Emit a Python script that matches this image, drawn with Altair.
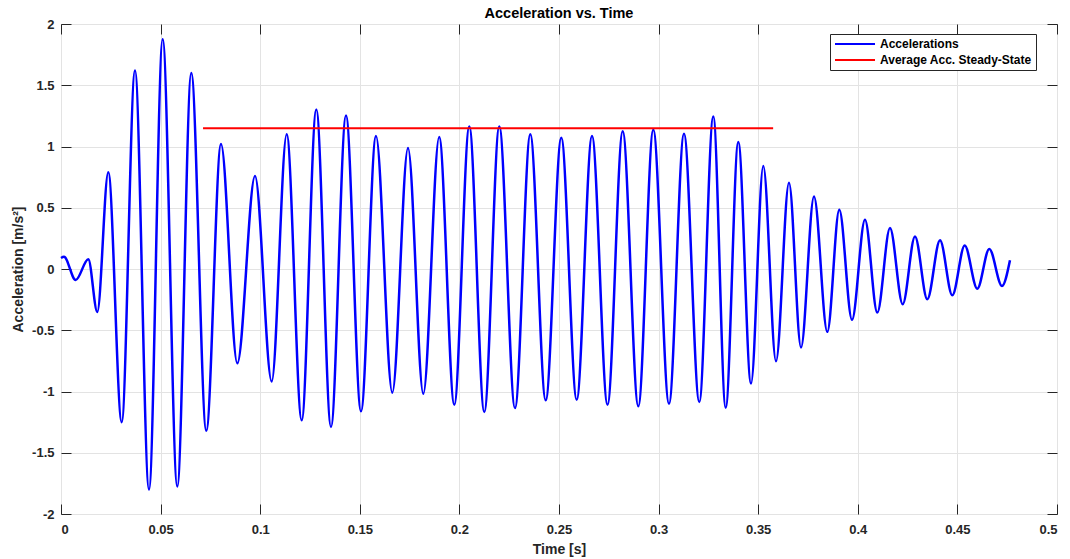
import altair as alt
import pandas as pd

# ---- data (extrema of the signal) ----
time_s = [0.0, 0.0015, 0.00738, 0.01370, 0.01822, 0.02374, 0.03047, 0.03715, 0.04418, 0.05105,
          0.05838, 0.06541, 0.07294, 0.08032, 0.08851, 0.09739, 0.10577, 0.11330, 0.12083, 0.12816,
          0.13554, 0.14307, 0.15060, 0.15813, 0.16632, 0.17420, 0.18188, 0.18986, 0.19744, 0.20497,
          0.21250, 0.22003, 0.22791, 0.23559, 0.24332, 0.25115, 0.25888, 0.26657, 0.27435, 0.28198,
          0.28981, 0.29734, 0.30522, 0.31275, 0.32043, 0.32746, 0.33369, 0.34001, 0.34639, 0.35256,
          0.35893, 0.36546, 0.37149, 0.37801, 0.38469, 0.39071, 0.39709, 0.40361, 0.40979, 0.41616,
          0.42254, 0.42871, 0.43489, 0.44127, 0.44744, 0.45367, 0.45999, 0.46601, 0.47239, 0.47640]
accel = [0.09, 0.10, -0.09, 0.08, -0.35, 0.79, -1.25, 1.62, -1.80, 1.876,
         -1.775, 1.60, -1.32, 1.02, -0.77, 0.759, -0.918, 1.099, -1.235, 1.302,
         -1.289, 1.253, -1.162, 1.086, -1.01, 0.988, -1.018, 1.078, -1.108, 1.164,
         -1.167, 1.164, -1.135, 1.099, -1.072, 1.072, -1.067, 1.086, -1.108, 1.124,
         -1.121, 1.137, -1.10, 1.105, -1.086, 1.245, -1.132, 1.037, -0.935, 0.84,
         -0.753, 0.705, -0.64, 0.591, -0.513, 0.483, -0.415, 0.402, -0.356, 0.334,
         -0.288, 0.266, -0.247, 0.234, -0.215, 0.191, -0.161, 0.164, -0.139, 0.071]

avg_time = [0.0713, 0.3575]
avg_value = [1.148, 1.148]

series_names = ["Accelerations", "Average Acc. Steady-State"]
series_colors = ["#0000ff", "#ff0000"]

x_ticks = [0, 0.05, 0.1, 0.15, 0.2, 0.25, 0.3, 0.35, 0.4, 0.45, 0.5]
y_ticks = [-2, -1.5, -1, -0.5, 0, 0.5, 1, 1.5, 2]

acc_df = pd.DataFrame({"t": time_s, "a": accel, "series": series_names[0]})
avg_df = pd.DataFrame({"t": avg_time, "a": avg_value, "series": series_names[1]})

FONT = "Liberation Sans"
AX = "#262626"

x_scale = alt.Scale(domain=[0, 0.5], nice=False, zero=False)
y_scale = alt.Scale(domain=[-2, 2], nice=False, zero=False)

color = alt.Color(
    "series:N",
    scale=alt.Scale(domain=series_names, range=series_colors),
    legend=alt.Legend(
        title=None, orient="none", legendX=769, legendY=10,
        symbolType="M-1,0H7", symbolSize=100, symbolStrokeWidth=2,
        labelFont=FONT, labelFontSize=12, labelFontWeight="bold", labelColor="#000000",
        strokeColor=AX, fillColor="#ffffff", padding=4, rowPadding=4, labelOffset=34,
        direction="vertical", cornerRadius=0,
    ),
)

common_axis = dict(
    offset=-10, tickSize=10, tickColor=AX, tickWidth=1, domain=False,
    labelFont=FONT, labelFontSize=13, labelFontWeight="bold", labelColor=AX,
    titleFont=FONT, titleFontSize=14, titleFontWeight="bold", titleColor=AX,
    labelExpr="datum.value + ''",
)

main = alt.Chart(acc_df).mark_line(interpolate="monotone", strokeWidth=2.5).encode(
    x=alt.X("t:Q", scale=x_scale,
            axis=alt.Axis(values=x_ticks, title="Time [s]", orient="bottom", grid=True,
                          gridColor="#e3e3e3", gridWidth=1, labelPadding=9, titlePadding=6,
                          **common_axis)),
    y=alt.Y("a:Q", scale=y_scale,
            axis=alt.Axis(values=y_ticks, title="Acceleration [m/s²]", orient="left", grid=True,
                          gridColor="#e3e3e3", gridWidth=1, labelPadding=7, titlePadding=6,
                          **common_axis)),
    color=color,
)

avg = alt.Chart(avg_df).mark_line(strokeWidth=2).encode(
    x=alt.X("t:Q", scale=x_scale,
            axis=alt.Axis(values=x_ticks, title=None, orient="top", grid=False, labels=False,
                          offset=-10, tickSize=10, tickColor=AX, tickWidth=1, domain=False)),
    y=alt.Y("a:Q", scale=y_scale,
            axis=alt.Axis(values=y_ticks, title=None, orient="right", grid=False, labels=False,
                          offset=-10, tickSize=10, tickColor=AX, tickWidth=1, domain=False)),
    color=color,
)

chart = (
    alt.layer(main, avg)
    .resolve_axis(x="independent", y="independent")
    .properties(
        width=996, height=490,
        title=alt.TitleParams("Acceleration vs. Time", font=FONT, fontSize=14.5, fontWeight="bold",
                              color="#000000", offset=0, dy=14, baseline="alphabetic", anchor="middle",
                              frame="group"),
        padding={"left": 61, "top": 24, "right": 13, "bottom": 45},
        autosize=alt.AutoSizeParams(type="none"),
        background="#ffffff",
    )
    .configure_view(stroke=AX, strokeWidth=1)
)

chart.save("out.html", embed_options={"renderer": "svg", "actions": False})
